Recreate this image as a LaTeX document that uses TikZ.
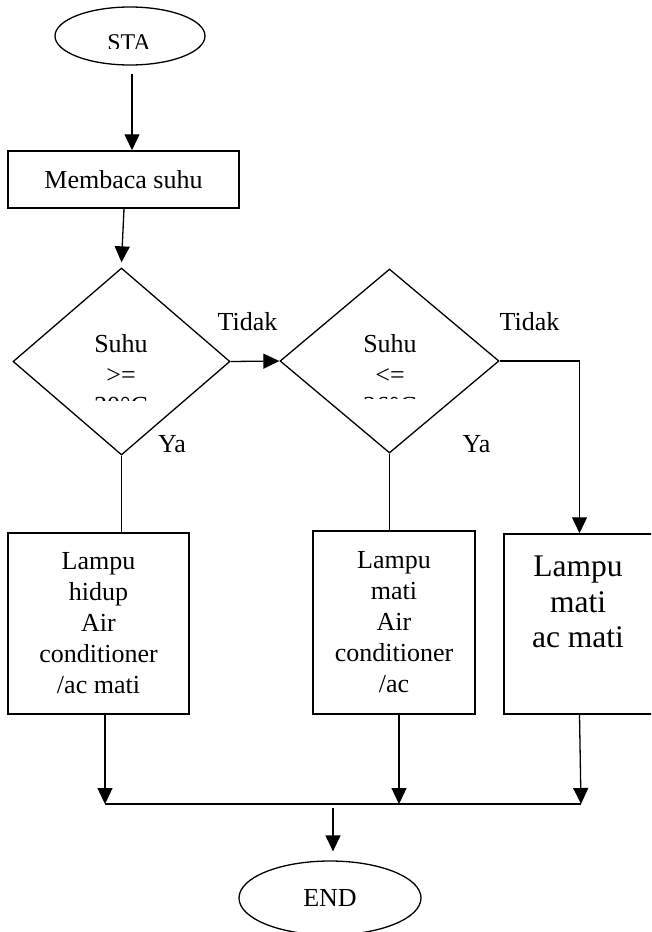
\documentclass[tikz,border=0pt]{standalone}
\usepackage{fontspec}
\setmainfont{Liberation Serif}
\usetikzlibrary{shapes.geometric,arrows.meta}

\begin{document}
\begin{tikzpicture}[x=1pt, y=-1pt,
        txt/.style={font=\fontsize{26}{31}\selectfont, inner sep=0pt},
        term/.style={ellipse, draw, line width=1.3pt, inner sep=0pt},
        proc/.style={rectangle, draw, line width=1.5pt, align=center, txt},
        decision/.style={diamond, draw, line width=1.3pt, inner sep=0pt},
        arrow/.style={-{Triangle[length=16pt, width=15pt]}, line width=1.3pt},
        line/.style={line width=1.3pt}
    ]
        \clip (0,0) rectangle (651,932);

        \node[term, minimum width=150pt, minimum height=58pt] (sta) at (130,36) {};
        \begin{scope}
            \clip (0,0) rectangle (651,48);
            \node[txt, anchor=base] (statxt) at (129,50) {\fontsize{24}{28}\selectfont STA};
        \end{scope}

        \node[proc, minimum width=231pt, minimum height=57pt] (baca) at (123.5,179.5) {Membaca suhu};

        \node[decision, minimum width=217pt, minimum height=187pt] (d1) at (121.5,361.5) {};
        \node[decision, minimum width=219pt, minimum height=184pt] (d2) at (389.5,361) {};
        \begin{scope}
            \clip (0,0) rectangle (651,400);
            \node[txt, align=center, anchor=north] (d1txt) at (121,334) {Suhu\\>=\\30°C};
        \end{scope}
        \begin{scope}
            \clip (0,0) rectangle (651,398);
            \node[txt, align=center, anchor=north] (d2txt) at (390,334) {Suhu\\<=\\26°C};
        \end{scope}

        \node[proc, minimum width=181pt, minimum height=181pt] (box1) at (98.5,623.5)
            {Lampu\\hidup\\Air\\conditioner\\/ac mati};
        \node[proc, minimum width=162pt, minimum height=183pt] (box2) at (394,622.5)
            {Lampu\\mati\\Air\\conditioner\\/ac};
        \node[proc, minimum width=151pt, minimum height=180pt] (box3) at (579.5,624) {};
        \node[align=center, inner sep=0pt, font=\fontsize{31.5}{35.5}\selectfont] (box3txt) at (578,602)
            {Lampu\\mati\\ac mati};

        \node[term, minimum width=182pt, minimum height=74pt, txt] (end) at (330,898) {END};

        \node[txt, anchor=base] (tidak1) at (247.5,330) {Tidak};
        \node[txt, anchor=base] (tidak2) at (529.5,330) {Tidak};
        \node[txt, anchor=base] (ya1) at (172,452) {Ya};
        \node[txt, anchor=base] (ya2) at (476.5,452) {Ya};

        \coordinate (j1) at (105,804);
        \coordinate (j2) at (399,804);
        \coordinate (j3) at (581,804);
        \coordinate (m) at (333,808);

        \draw[arrow] ([xshift=2pt, yshift=-8pt]sta.south) -- ([xshift=2pt]sta.south |- baca.north);
        \draw[arrow] ([xshift=0.5pt]baca.south) -- ([yshift=5pt]d1.north);
        \draw[arrow] (d1.east) -- (d2.west);
        \draw[arrow] (d2.east) -| (box3.north);
        \draw[line] (d1.south) -- (d1.south |- box1.north);
        \draw[line] (d2.south) -- (d2.south |- box2.north);

        \draw[arrow] ([xshift=6.5pt]box1.south) -- (j1);
        \draw[arrow] ([xshift=5pt]box2.south) -- (j2);
        \draw[arrow] (box3.south) -- (j3);
        \draw[line] (j1) -- (j3);
        \draw[arrow] (m) -- ([yshift=9pt]m |- end.north);
    \end{tikzpicture}
\end{document}
